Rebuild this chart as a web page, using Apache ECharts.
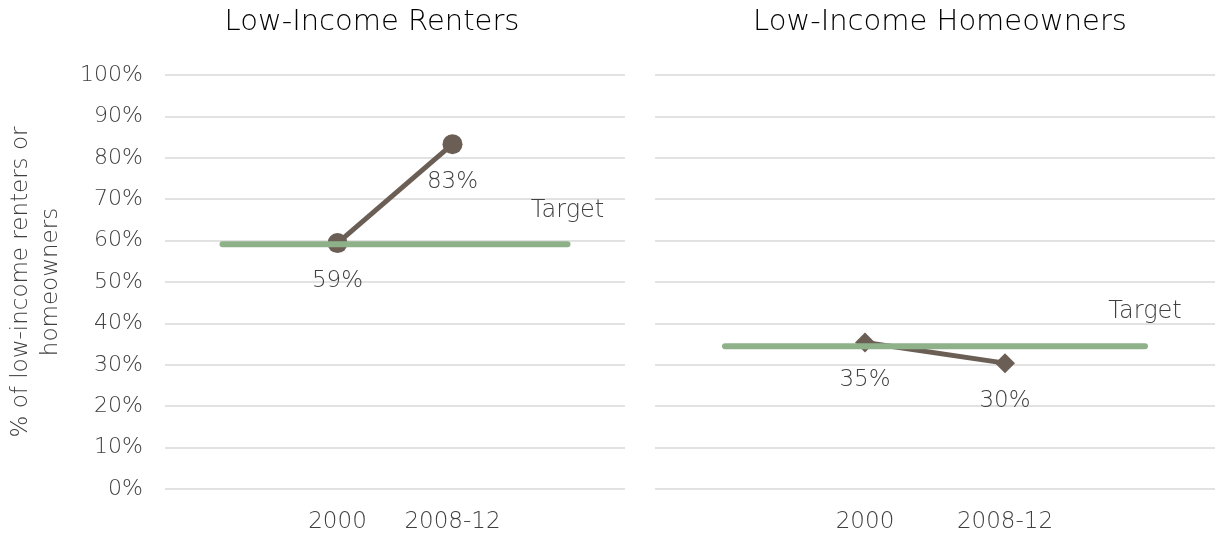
<!DOCTYPE html>
<html>
<head>
<meta charset="utf-8">
<script src="https://cdn.jsdelivr.net/npm/echarts@6/dist/echarts.min.js"></script>
<style>
html,body{margin:0;padding:0;background:#fff;}
#chart{width:1217px;height:540px;}
</style>
</head>
<body>
<div id="chart"></div>
<script>
const categories = ['', '2000', '2008-12', ''];
const rentersValues = [null, 59.4, 83.3, null];
const rentersTarget = [59.1, 59.1, 59.1, 59.1];
const ownersValues = [null, 35.4, 30.4, null];
const ownersTarget = [34.5, 34.5, 34.5, 34.5];
const yTicks = [0, 10, 20, 30, 40, 50, 60, 70, 80, 90, 100];
const titles = ['Low-Income Renters', 'Low-Income Homeowners'];
const yAxisName = '% of low-income renters or\nhomeowners';
const targetText = 'Target';

const FONT = '"DejaVu Sans", sans-serif';
const FW = 200;
const brown = '#6b5e55';
const green = '#8fb18a';
const txt = '#404040';

const chart = echarts.init(document.getElementById('chart'));

function targetSeries(data, idx) {
  const last = data.length - 1;
  return {
    type: 'line', xAxisIndex: idx, yAxisIndex: idx, data: data,
    symbol: 'none', z: 5,
    lineStyle: { color: green, width: 6, cap: 'round' },
    markPoint: {
      symbol: 'circle', symbolSize: 0,
      data: [{ coord: [last, data[last]], value: targetText }],
      label: {
        show: true, position: 'inside', offset: [0, -34], formatter: targetText,
        color: txt, fontSize: 24, fontFamily: FONT, fontWeight: FW
      }
    },
    animation: false
  };
}

function valueSeries(data, idx, symbol, size) {
  return {
    type: 'line', xAxisIndex: idx, yAxisIndex: idx, data: data,
    symbol: symbol, symbolSize: size, showSymbol: true, connectNulls: false, z: 3,
    lineStyle: { color: brown, width: 5 },
    itemStyle: { color: brown },
    label: {
      show: true, position: 'inside', offset: [0, 38],
      formatter: p => Math.round(p.value) + '%',
      color: txt, fontSize: 23, fontFamily: FONT, fontWeight: FW
    },
    animation: false
  };
}

const grids = [
  { left: 165, right: 592, top: 75, bottom: 51, containLabel: false, outerBoundsMode: 'none' },
  { left: 655, right: 2, top: 75, bottom: 51, containLabel: false, outerBoundsMode: 'none' }
];

const option = {
  backgroundColor: '#fff',
  animation: false,
  title: [
    { text: titles[0], left: 367, top: 3, textAlign: 'center',
      textStyle: { fontSize: 29, fontWeight: 300, color: '#000', fontFamily: FONT } },
    { text: titles[1], left: 935, top: 3, textAlign: 'center',
      textStyle: { fontSize: 29, fontWeight: 300, color: '#000', fontFamily: FONT } }
  ],
  grid: grids,
  xAxis: [0, 1].map(i => ({
    type: 'category', gridIndex: i, data: categories, boundaryGap: true,
    axisLine: { show: false }, axisTick: { show: false },
    axisLabel: { color: txt, fontSize: 23, fontFamily: FONT, fontWeight: FW, margin: 22, interval: 0 },
    splitLine: { show: false }
  })),
  yAxis: [0, 1].map(i => ({
    type: 'value', gridIndex: i, min: 0, max: 100, interval: 10,
    axisLine: { show: false }, axisTick: { show: false },
    axisLabel: {
      show: i === 0, color: txt, fontSize: 22, fontFamily: FONT, fontWeight: FW, margin: 22,
      formatter: v => yTicks.includes(v) ? v + '%' : ''
    },
    splitLine: { show: true, lineStyle: { color: '#d9d9d9', width: 1.5 } },
    name: i === 0 ? yAxisName : '',
    nameLocation: 'middle', nameRotate: 90, nameGap: 99,
    nameTextStyle: { color: txt, fontSize: 23, fontFamily: FONT, fontWeight: FW, lineHeight: 30 }
  })),
  series: [
    valueSeries(rentersValues, 0, 'circle', 20),
    targetSeries(rentersTarget, 0),
    valueSeries(ownersValues, 1, 'diamond', 20),
    targetSeries(ownersTarget, 1)
  ]
};
chart.setOption(option);
</script>
</body>
</html>
